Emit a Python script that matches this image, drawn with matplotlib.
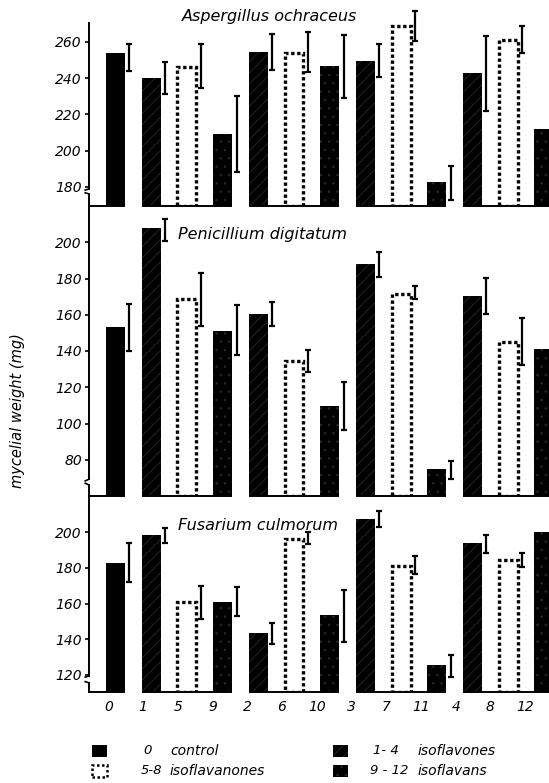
import numpy as np
import matplotlib
matplotlib.use("Agg")
import matplotlib.pyplot as plt
from matplotlib.patches import Rectangle

# ---------------- data ----------------
compounds = ['0', '1', '5', '9', '2', '6', '10', '3', '7', '11', '4', '8', '12']
groups = [['0'], ['1', '5', '9'], ['2', '6', '10'], ['3', '7', '11'], ['4', '8', '12']]
class_names = ['control', 'isoflavones', 'isoflavanones', 'isoflavans']
class_labels = ['0', '1- 4', '5-8', '9 - 12']
class_of = {0: 'control', 1: 'isoflavones', 2: 'isoflavones', 3: 'isoflavones', 4: 'isoflavones',
            5: 'isoflavanones', 6: 'isoflavanones', 7: 'isoflavanones', 8: 'isoflavanones',
            9: 'isoflavans', 10: 'isoflavans', 11: 'isoflavans', 12: 'isoflavans'}

fungi = ['Aspergillus ochraceus', 'Penicillium digitatum', 'Fusarium culmorum']
nan = np.nan

asp_mean = [254, 240, 246, 209, 254.5, 254, 246.5, 249.5, 268.5, 182.5, 243, 261, 212]
asp_low = [244, 231, 234.5, 188, 244.5, 243.5, 229, 240.5, 260.5, 173, 222, 253.5, nan]
asp_high = [259, 249, 258.5, 230, 264.5, 265.5, 263.5, 258.5, 277, 191.5, 263, 268.5, nan]

pen_mean = [153, 208, 168.5, 151.3, 160.5, 134.5, 109.6, 187.8, 171.7, 75, 170.4, 145.2, 141.3]
pen_low = [140, 200.7, 153.7, 137.6, 154, 128.5, 96.3, 180.6, 168.5, 69.4, 160.6, 132.4, nan]
pen_high = [166, 212.8, 183.3, 165.3, 167, 140.7, 123, 194.4, 175.7, 79.4, 180.3, 158.1, nan]

fus_mean = [183, 198.5, 160.7, 160.7, 143.3, 196.2, 153.5, 207.3, 181.2, 125.4, 193.8, 184.4, 200.3]
fus_low = [172, 194.2, 151.3, 153, 137.2, 193.4, 138.5, 202.8, 176.6, 118.9, 188.5, 180.7, nan]
fus_high = [194.2, 202.2, 169.8, 169.1, 148.9, 200.3, 167.6, 212.1, 186.7, 131.1, 198.5, 188.5, nan]

asp_ticks = [180, 200, 220, 240, 260]
pen_ticks = [80, 100, 120, 140, 160, 180, 200]
fus_ticks = [120, 140, 160, 180, 200]

ylabel = 'mycelial weight (mg)'

# ---------------- styling ----------------
plt.rcParams['font.family'] = ['DejaVu Sans']
plt.rcParams['hatch.color'] = '#242424'
plt.rcParams['hatch.linewidth'] = 0.7

W, H = 549, 783
fig = plt.figure(figsize=(W / 100, H / 100), dpi=100)

styles = {
    'control': dict(facecolor='black', hatch=None, dotted=False),
    'isoflavones': dict(facecolor='black', hatch='///', dotted=False),
    'isoflavanones': dict(facecolor='white', hatch=None, dotted=True),
    'isoflavans': dict(facecolor='black', hatch='..', dotted=False),
}

bar_w = 0.53
err_off = 0.39
xleft, xright = -0.742, 12.5

# axes placement in pixels: (top_px, bottom_px)
panels_px = [(23, 206), (206, 496), (496, 692)]
ylims = [(169.5, 270.3), (60.0, 220.0), (110.3, 220.4)]
breaks = [(0.093, 0.066), (0.058, 0.038), (0.082, 0.047)]
means = [asp_mean, pen_mean, fus_mean]
lows = [asp_low, pen_low, fus_low]
highs = [asp_high, pen_high, fus_high]
ticks = [asp_ticks, pen_ticks, fus_ticks]

ax_left_px = 89
ax_w_px = 472.75

x = np.arange(len(compounds))
axes = []
for p in range(3):
    top, bot = panels_px[p]
    ax = fig.add_axes([ax_left_px / W, (H - bot) / H, ax_w_px / W, (bot - top) / H])
    ax.set_facecolor('none')
    ax.set_xlim(xleft, xright)
    ax.set_ylim(*ylims[p])
    for s in ['top', 'right', 'bottom', 'left']:
        ax.spines[s].set_visible(False)

    m = np.array(means[p], dtype=float)
    lo = np.array(lows[p], dtype=float)
    hi = np.array(highs[p], dtype=float)
    y0 = ylims[p][0]
    for i, c in enumerate(compounds):
        st = styles[class_of[int(c)]]
        if st['dotted']:
            ax.bar(x[i], m[i] - y0, bottom=y0, width=bar_w, facecolor='white',
                   edgecolor='black', linewidth=2.4, linestyle=(0, (1, 0.8)), zorder=2)
        else:
            ax.bar(x[i], m[i] - y0, bottom=y0, width=bar_w, facecolor=st['facecolor'],
                   hatch=st['hatch'], linewidth=0, zorder=2)
    ok = ~np.isnan(lo)
    ax.vlines(x[ok] + err_off, lo[ok], hi[ok], color='black', lw=1.6, zorder=3, clip_on=False)
    ax.plot(x[ok] + err_off, lo[ok], ls='none', marker='_', ms=5, mew=1.6, color='black', clip_on=False)
    ax.plot(x[ok] + err_off, hi[ok], ls='none', marker='_', ms=5, mew=1.6, color='black', clip_on=False)

    # group baselines
    for g in groups:
        idx = [compounds.index(c) for c in g]
        x0 = xleft if g == ['0'] else x[idx[0]] - bar_w / 2
        x1 = x[idx[-1]] + bar_w / 2
        ax.plot([x0, x1], [y0, y0], color='black', lw=1.4, clip_on=False, zorder=4,
                solid_capstyle='butt')

    # left spine with break
    bh, bl = breaks[p]
    tr = ax.transAxes
    ax.plot([0, 0], [1, bh], color='black', lw=1.4, transform=tr, clip_on=False)
    ax.plot([0, 0], [bl, 0], color='black', lw=1.4, transform=tr, clip_on=False)
    ax.plot([0, -0.008], [bh, bh - 0.006], color='black', lw=1.2, transform=tr, clip_on=False)
    ax.plot([0, -0.008], [bl, bl + 0.006], color='black', lw=1.2, transform=tr, clip_on=False)

    ax.set_yticks(ticks[p])
    ax.set_yticklabels([str(t) for t in ticks[p]], fontsize=10, style='italic')
    ax.tick_params(axis='y', direction='out', length=3, width=1.2, pad=2)
    ax.tick_params(axis='x', length=0)
    axes.append(ax)

for ax in axes[:2]:
    ax.set_xticks([])

# x tick labels (slightly compressed relative to bars as in the original)
label_pos = -0.2 + 0.973 * x
axes[2].set_xticks(label_pos)
axes[2].set_xticklabels(compounds, fontsize=10, style='italic')
axes[2].tick_params(axis='x', length=0, pad=6)

# panel titles
fig.text(270 / W, 1 - 17 / H, fungi[0], ha='center', va='center', fontsize=11.5, style='italic')
fig.text(178 / W, 1 - 235 / H, fungi[1], ha='left', va='center', fontsize=11.5, style='italic')
fig.text(178 / W, 1 - 525 / H, fungi[2], ha='left', va='center', fontsize=11.5, style='italic')

# y label
fig.text(18 / W, 1 - 411 / H, ylabel, rotation=90, ha='center', va='center',
         fontsize=10.5, style='italic')

# legend
leg_layout = [  # (class index, square x px, num x px, text x px, row y px)
    (0, 92, 143, 170, 751),
    (2, 92, 141, 170, 771),
    (1, 333, 373, 418, 751),
    (3, 333, 370, 418, 771),
]
for ci, sx, nx, tx, ry in leg_layout:
    cname = class_names[ci]
    st = styles[cname]
    sw, sh = 15, 12
    if st['dotted']:
        r = Rectangle((sx / W, 1 - (ry + sh / 2) / H), sw / W, sh / H, transform=fig.transFigure,
                      facecolor='white', edgecolor='black', lw=1.8, ls=(0, (1, 1)))
    else:
        r = Rectangle((sx / W, 1 - (ry + sh / 2) / H), sw / W, sh / H, transform=fig.transFigure,
                      facecolor='black', hatch=st['hatch'], lw=0)
    fig.add_artist(r)
    fig.text(nx / W, 1 - ry / H, class_labels[ci], ha='left', va='center', fontsize=9.5, style='italic')
    fig.text(tx / W, 1 - ry / H, cname, ha='left', va='center', fontsize=10, style='italic')

fig.savefig('out.png', dpi=100)
